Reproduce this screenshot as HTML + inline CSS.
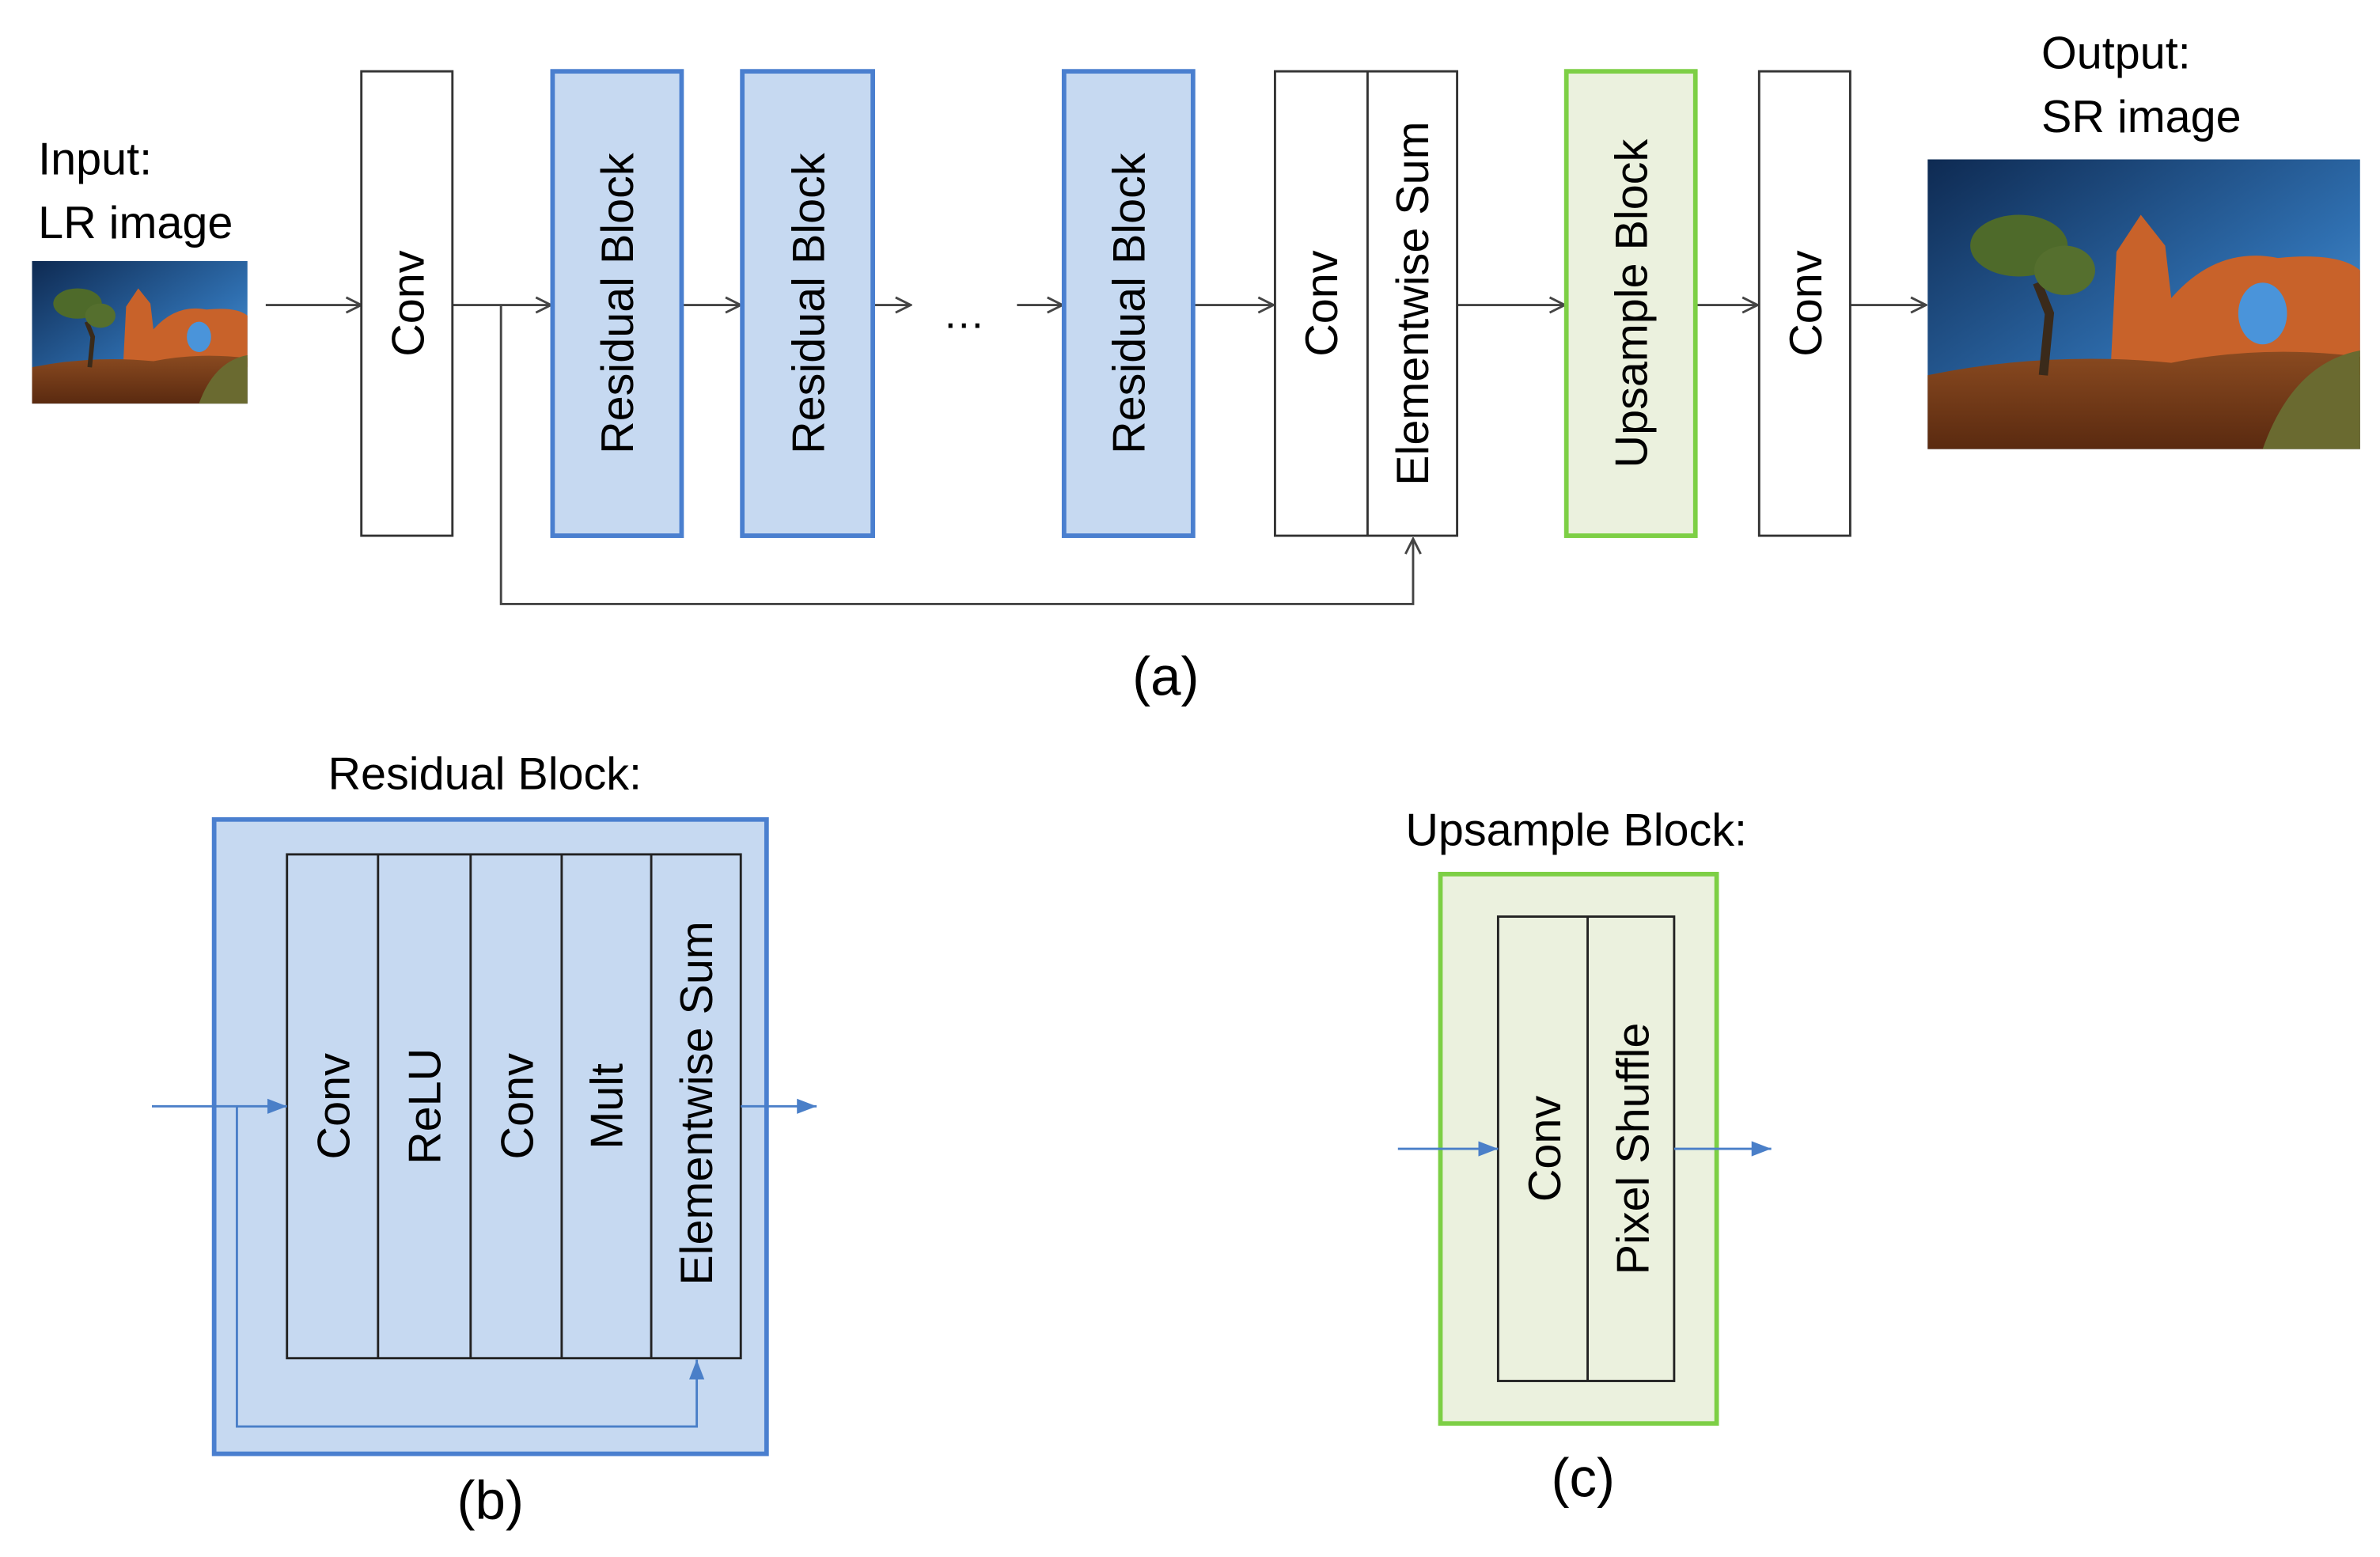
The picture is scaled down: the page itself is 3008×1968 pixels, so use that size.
<!DOCTYPE html>
<html><head><meta charset="utf-8"><style>
html,body{margin:0;padding:0;background:#fff;}
svg{display:block;}
text{font-family:"Liberation Sans","DejaVu Sans",sans-serif;fill:#000;}
</style></head><body>
<svg width="3008" height="1968" viewBox="0 0 1568 1026" xmlns="http://www.w3.org/2000/svg">
<defs>
<marker id="oa" markerWidth="12" markerHeight="12" refX="11" refY="6" orient="auto" markerUnits="userSpaceOnUse">
<path d="M1,1 L11,6 L1,11" fill="none" stroke="#444" stroke-width="1.5"/>
</marker>
<marker id="ba" markerWidth="14" markerHeight="12" refX="13" refY="6" orient="auto" markerUnits="userSpaceOnUse">
<path d="M0,1 L13,6 L0,11 Z" fill="#4a7fc8"/>
</marker>
<linearGradient id="sky" x1="0" y1="0" x2="1" y2="1">
<stop offset="0" stop-color="#0e2a52"/><stop offset="0.6" stop-color="#2f6fb0"/><stop offset="1" stop-color="#5aa3e0"/>
</linearGradient>
<linearGradient id="gnd" x1="0" y1="0" x2="0" y2="1">
<stop offset="0" stop-color="#8a4a20"/><stop offset="1" stop-color="#5a2a10"/>
</linearGradient>
<symbol id="photo" viewBox="0 0 142 94" preserveAspectRatio="none">
<rect width="142" height="94" fill="url(#sky)"/>
<path d="M60,70 L62,30 L70,18 L78,28 L80,45 Q95,28 115,32 Q135,30 142,36 L142,70 Z" fill="#c8622a"/>
<ellipse cx="110" cy="50" rx="8" ry="10" fill="#4a94da"/>
<path d="M0,70 Q40,62 80,66 Q110,60 142,64 L142,94 L0,94 Z" fill="url(#gnd)"/>
<path d="M110,94 Q120,66 142,62 L142,94 Z" fill="#6a6a30"/>
<path d="M38,70 L40,50 L36,40" stroke="#3a2a1a" stroke-width="3" fill="none"/>
<ellipse cx="30" cy="28" rx="16" ry="10" fill="#4e6a2a"/>
<ellipse cx="45" cy="36" rx="10" ry="8" fill="#556f2e"/>
</symbol>
</defs>

<!-- (a) -->
<text x="25" y="115" font-size="30">Input:</text>
<text x="25" y="157" font-size="30">LR image</text>
<use href="#photo" x="21" y="172" width="142" height="94"/>
<text x="1345" y="45" font-size="30">Output:</text>
<text x="1345" y="87" font-size="30">SR image</text>
<use href="#photo" x="1270" y="105" width="285" height="191"/>

<g stroke="#444" stroke-width="1.5" fill="none">
<line x1="175" y1="201" x2="238" y2="201" marker-end="url(#oa)"/>
<line x1="298" y1="201" x2="363" y2="201" marker-end="url(#oa)"/>
<line x1="449" y1="201" x2="488" y2="201" marker-end="url(#oa)"/>
<line x1="575" y1="201" x2="600" y2="201" marker-end="url(#oa)"/>
<line x1="670" y1="201" x2="700" y2="201" marker-end="url(#oa)"/>
<line x1="786" y1="201" x2="839" y2="201" marker-end="url(#oa)"/>
<line x1="960" y1="201" x2="1031" y2="201" marker-end="url(#oa)"/>
<line x1="1117" y1="201" x2="1158" y2="201" marker-end="url(#oa)"/>
<line x1="1219" y1="201" x2="1269" y2="201" marker-end="url(#oa)"/>
<polyline points="330,201 330,398 931,398 931,355" marker-end="url(#oa)"/>
</g>
<text x="635" y="216" font-size="28" text-anchor="middle">…</text>

<g stroke-width="1.5">
<rect x="238" y="47" width="60" height="306" fill="#fff" stroke="#333"/>
<rect x="840" y="47" width="120" height="306" fill="#fff" stroke="#333"/>
<line x1="901" y1="47" x2="901" y2="353" stroke="#333"/>
<rect x="1159" y="47" width="60" height="306" fill="#fff" stroke="#333"/>
</g>
<g fill="#c6d9f1" stroke="#4a7fcf" stroke-width="3">
<rect x="364" y="47" width="85" height="306"/>
<rect x="489" y="47" width="86" height="306"/>
<rect x="701" y="47" width="85" height="306"/>
</g>
<rect x="1032" y="47" width="85" height="306" fill="#ebf1de" stroke="#7dcf45" stroke-width="3"/>

<g font-size="30" text-anchor="middle">
<text transform="translate(279,200) rotate(-90)">Conv</text>
<text transform="translate(417,200) rotate(-90)">Residual Block</text>
<text transform="translate(543,200) rotate(-90)">Residual Block</text>
<text transform="translate(754,200) rotate(-90)">Residual Block</text>
<text transform="translate(881,200) rotate(-90)">Conv</text>
<text transform="translate(941,200) rotate(-90)">Elementwise Sum</text>
<text transform="translate(1085,200) rotate(-90)">Upsample Block</text>
<text transform="translate(1200,200) rotate(-90)">Conv</text>
</g>
<text x="768" y="458" font-size="36" text-anchor="middle">(a)</text>

<!-- (b) -->
<text x="216" y="520" font-size="30">Residual Block:</text>
<rect x="141" y="540" width="364" height="418" fill="#c6d9f1" stroke="#4a7fcf" stroke-width="3"/>
<rect x="189" y="563" width="299" height="332" fill="#c6d9f1" stroke="#222" stroke-width="1.5"/>
<g stroke="#222" stroke-width="1.5">
<line x1="249" y1="563" x2="249" y2="895"/>
<line x1="310" y1="563" x2="310" y2="895"/>
<line x1="370" y1="563" x2="370" y2="895"/>
<line x1="429" y1="563" x2="429" y2="895"/>
</g>
<g stroke="#4a7fc8" stroke-width="1.5" fill="none">
<line x1="100" y1="729" x2="189" y2="729" marker-end="url(#ba)"/>
<polyline points="156,729 156,940 459,940 459,896" marker-end="url(#ba)"/>
<line x1="488" y1="729" x2="538" y2="729" marker-end="url(#ba)"/>
</g>
<g font-size="30" text-anchor="middle">
<text transform="translate(230,729) rotate(-90)">Conv</text>
<text transform="translate(290,729) rotate(-90)">ReLU</text>
<text transform="translate(351,729) rotate(-90)">Conv</text>
<text transform="translate(410,729) rotate(-90)">Mult</text>
<text transform="translate(469,727) rotate(-90)">Elementwise Sum</text>
</g>
<text x="323" y="1001" font-size="36" text-anchor="middle">(b)</text>

<!-- (c) -->
<text x="926" y="557" font-size="30">Upsample Block:</text>
<rect x="949" y="576" width="182" height="362" fill="#ebf1de" stroke="#7dcf45" stroke-width="3"/>
<rect x="987" y="604" width="116" height="306" fill="#ebf1de" stroke="#222" stroke-width="1.5"/>
<line x1="1046" y1="604" x2="1046" y2="910" stroke="#222" stroke-width="1.5"/>
<g stroke="#4a7fc8" stroke-width="1.5" fill="none">
<line x1="921" y1="757" x2="987" y2="757" marker-end="url(#ba)"/>
<line x1="1103" y1="757" x2="1167" y2="757" marker-end="url(#ba)"/>
</g>
<g font-size="30" text-anchor="middle">
<text transform="translate(1028,757) rotate(-90)">Conv</text>
<text transform="translate(1086,757) rotate(-90)">Pixel Shuffle</text>
</g>
<text x="1043" y="986" font-size="36" text-anchor="middle">(c)</text>
</svg>
</body></html>
